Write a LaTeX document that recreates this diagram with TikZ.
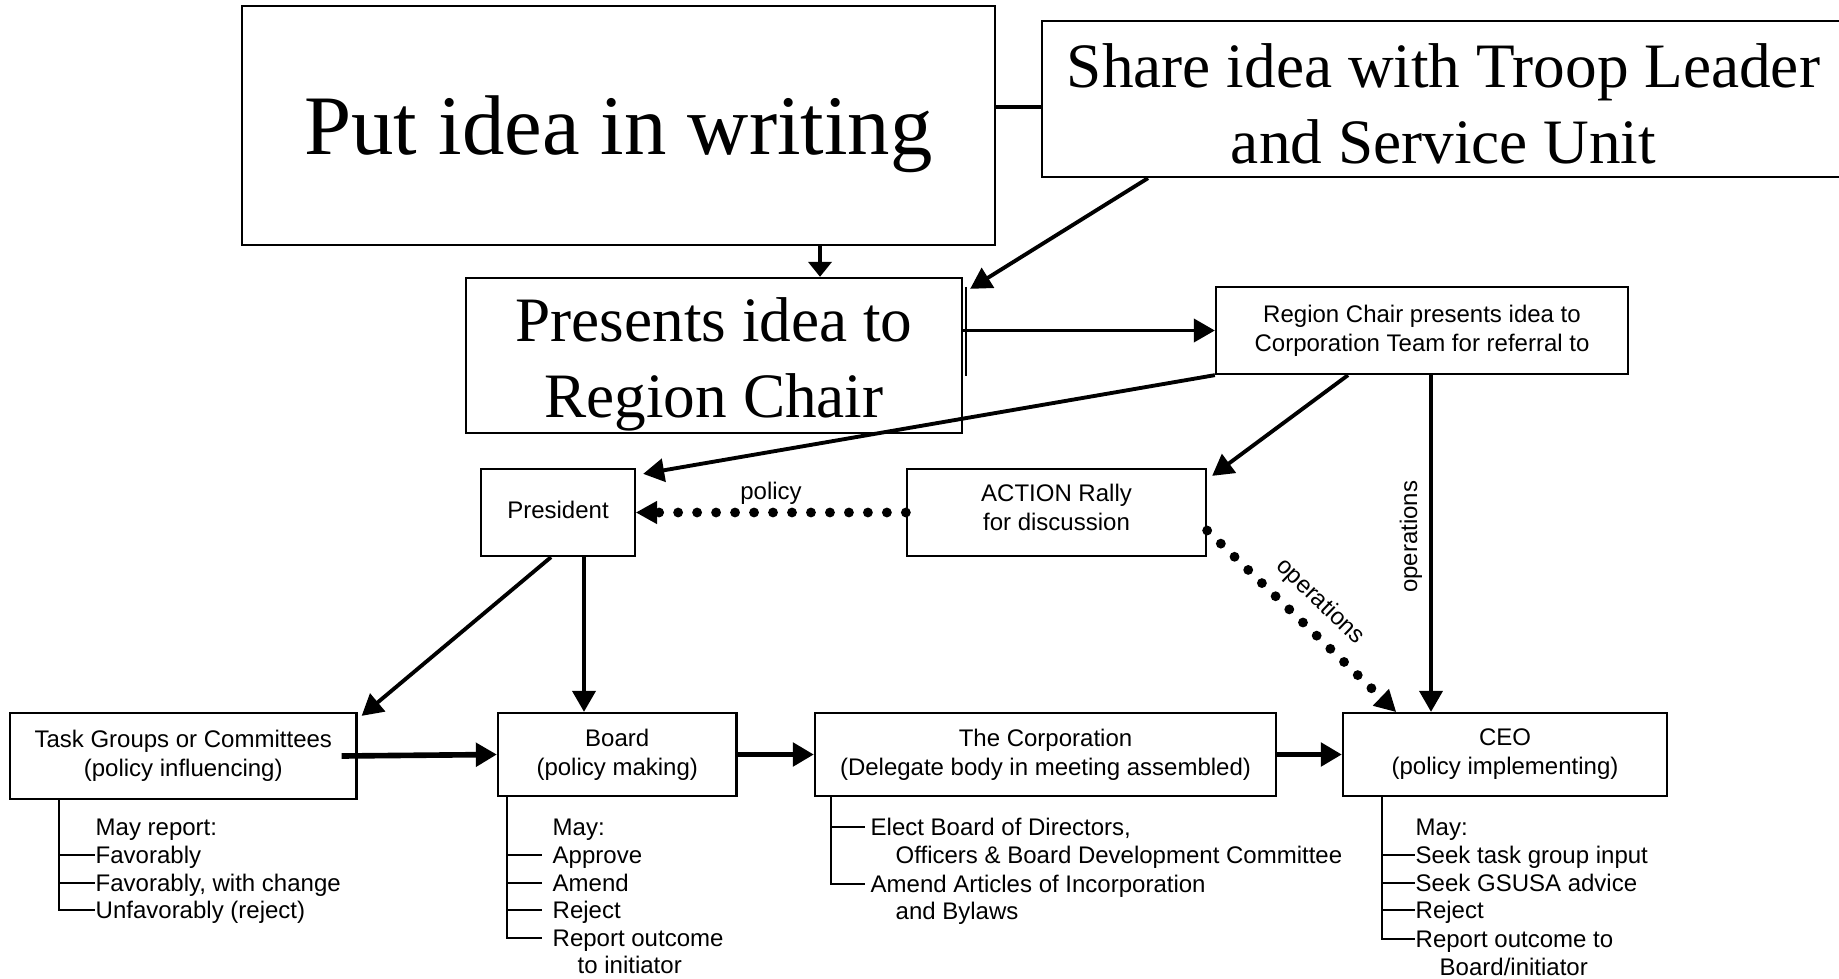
\documentclass[tikz,border=0pt]{standalone}
\usepackage{fontspec}
\setmainfont{Liberation Serif}
\newfontfamily\arialfont{Liberation Sans}
\usetikzlibrary{arrows.meta}
\begin{document}
\begin{tikzpicture}[
    box/.style={draw, line width=0.65pt, inner sep=0pt, align=center},
    arialtxt/.style={font=\arialfont\fontsize{6.83}{8.25}\selectfont},
    conn/.style={line width=1.1pt},
    arr/.style={line width=1.1pt, -{Triangle[length=2.1mm,width=2.3mm]}},
    fat/.style={line width=1.6pt, -{Triangle[length=2.1mm,width=2.3mm]}},
    dotarr/.style={line width=2.8pt, line cap=round, dash pattern=on 0pt off 5.4pt, -{Triangle[length=2.1mm,width=2.3mm,line width=0.5pt]}},
    lst/.style={line width=0.6pt},
    listtxt/.style={arialtxt, anchor=west, inner sep=0pt, text height=5pt, text depth=0.3pt}
  ]
    \useasboundingbox (0,0) rectangle (18.39,-9.79);
    \node (write) at (6.185,-1.255)[box, minimum width=7.53cm, minimum height=2.39cm, text depth=0pt, font=\fontsize{24.1}{29}\selectfont]{Put idea in writing};
    \node (share) at (14.435,-0.99)[box, minimum width=8.03cm, minimum height=1.56cm, text height=36.6pt, font=\fontsize{18}{21.5}\selectfont]{Share idea with Troop Leader\\and Service Unit};
    \node (presents) at (7.14,-3.555)[box, minimum width=4.96cm, minimum height=1.55cm, text height=39pt, font=\fontsize{18}{21.5}\selectfont]{Presents idea to\\Region Chair};
    \node (region) at (14.22,-3.305)[box, arialtxt, minimum width=4.12cm, minimum height=0.87cm]{Region Chair presents idea to\\Corporation Team for referral to};
    \node (president) at (5.58,-5.125)[box, arialtxt, minimum width=1.54cm, minimum height=0.87cm, text depth=1.4pt]{President};
    \node (action) at (10.565,-5.125)[box, arialtxt, minimum width=2.99cm, minimum height=0.87cm, text depth=2.8pt]{ACTION Rally\\for discussion};
    \node (tg) at (1.8325,-7.56)[box, arialtxt, minimum width=3.465cm, minimum height=0.86cm]{Task Groups or Committees\\(policy influencing)};
    \node (board) at (6.1725,-7.545)[box, arialtxt, minimum width=2.385cm, minimum height=0.83cm]{Board\\(policy making)};
    \node (corp) at (10.455,-7.545)[box, arialtxt, minimum width=4.61cm, minimum height=0.83cm]{The Corporation\\(Delegate body in meeting assembled)};
    \node (ceo) at (15.05,-7.545)[box, arialtxt, minimum width=3.24cm, minimum height=0.83cm]{CEO\\(policy implementing)};
    \draw[line width=1.1pt, -{Triangle[length=1.5mm,width=2.3mm]}] ([xshift=2.015cm]write.south) -- ([xshift=1.06cm]presents.north);
    \draw[conn] ([yshift=-0.08cm]share.west) -- ([yshift=0.185cm]write.east);
    \draw[arr] ([xshift=-2.955cm]share.south) -- ([xshift=0.07cm,yshift=-0.12cm]presents.north east);
    \draw[arr] (presents.east |- region.west) -- (region.west);
    \draw[lst] ([xshift=0.03cm,yshift=-0.1cm]presents.north east) -- ([xshift=0.03cm,yshift=0.58cm]presents.south east);
    \draw[arr] (region.south west) -- ([xshift=0.07cm,yshift=-0.06cm]president.north east);
    \draw[arr] ([xshift=-0.74cm]region.south) -- ([xshift=0.05cm,yshift=-0.08cm]action.north east);
    \draw[arr] ([xshift=0.09cm]region.south) -- ([xshift=-0.74cm]ceo.north) node[pos=0.48, rotate=90, inner sep=0pt, above=2pt, arialtxt]{operations};
    \draw[dotarr] (action.west) -- (president.east) node[midway, inner sep=0pt, above=1pt, arialtxt]{policy};
    \draw[dotarr] ([yshift=-0.18cm]action.east) -- ([xshift=-1.09cm]ceo.north) node[pos=0.5, sloped, inner sep=0pt, above=3pt, arialtxt]{operations};
    \draw[arr] ([xshift=-0.07cm]president.south) -- ([xshift=0.04cm,yshift=-0.04cm]tg.north east);
    \draw[arr] ([xshift=0.26cm]president.south) -- ([xshift=-0.3325cm]board.north);
    \draw[fat] ([xshift=-0.16cm]tg.east) -- (board.west);
    \draw[fat] (board.east) -- (corp.west);
    \draw[fat] (corp.east) -- (ceo.west);
    \node (tgmay) at (0.95,-8.27)[listtxt]{May report:};
    \node (tgfav) at (0.95,-8.55)[listtxt]{Favorably};
    \node (tgchg) at (0.95,-8.83)[listtxt]{Favorably, with change};
    \node (tgunf) at (0.95,-9.10)[listtxt]{Unfavorably (reject)};
    \draw[lst] ([xshift=0.5cm]tg.south west) |- (tgfav.west);
    \draw[lst] ([xshift=0.5cm]tg.south west) |- (tgchg.west);
    \draw[lst] ([xshift=0.5cm]tg.south west) |- (tgunf.west);
    \node (bmay) at (5.52,-8.27)[listtxt]{May:};
    \node (bapp) at (5.52,-8.55)[listtxt]{Approve};
    \node (bame) at (5.52,-8.83)[listtxt]{Amend};
    \node (brej) at (5.52,-9.10)[listtxt]{Reject};
    \node (brep) at (5.52,-9.38)[listtxt]{Report outcome};
    \node (brep2) at (5.77,-9.65)[listtxt]{to initiator};
    \draw[lst] ([xshift=0.1cm]board.south west) |- ([xshift=-0.1cm]bapp.west);
    \draw[lst] ([xshift=0.1cm]board.south west) |- ([xshift=-0.1cm]bame.west);
    \draw[lst] ([xshift=0.1cm]board.south west) |- ([xshift=-0.1cm]brej.west);
    \draw[lst] ([xshift=0.1cm]board.south west) |- ([xshift=-0.1cm]brep.west);
    \node (celect) at (8.70,-8.27)[listtxt]{Elect Board of Directors,};
    \node (celect2) at (8.95,-8.55)[listtxt]{Officers \& Board Development Committee};
    \node (camend) at (8.70,-8.84)[listtxt]{Amend Articles of Incorporation};
    \node (camend2) at (8.95,-9.11)[listtxt]{and Bylaws};
    \draw[lst] ([xshift=0.17cm]corp.south west) |- ([xshift=-0.05cm]celect.west);
    \draw[lst] ([xshift=0.17cm]corp.south west) |- ([xshift=-0.05cm]camend.west);
    \node (emay) at (14.15,-8.27)[listtxt]{May:};
    \node (etask) at (14.15,-8.55)[listtxt]{Seek task group input};
    \node (egsusa) at (14.15,-8.83)[listtxt]{Seek GSUSA advice};
    \node (erej) at (14.15,-9.10)[listtxt]{Reject};
    \node (erep) at (14.15,-9.39)[listtxt]{Report outcome to};
    \node (erep2) at (14.39,-9.67)[listtxt]{Board/initiator};
    \draw[lst] ([xshift=0.4cm]ceo.south west) |- (etask.west);
    \draw[lst] ([xshift=0.4cm]ceo.south west) |- (egsusa.west);
    \draw[lst] ([xshift=0.4cm]ceo.south west) |- (erej.west);
    \draw[lst] ([xshift=0.4cm]ceo.south west) |- (erep.west);
\end{tikzpicture}
\end{document}
